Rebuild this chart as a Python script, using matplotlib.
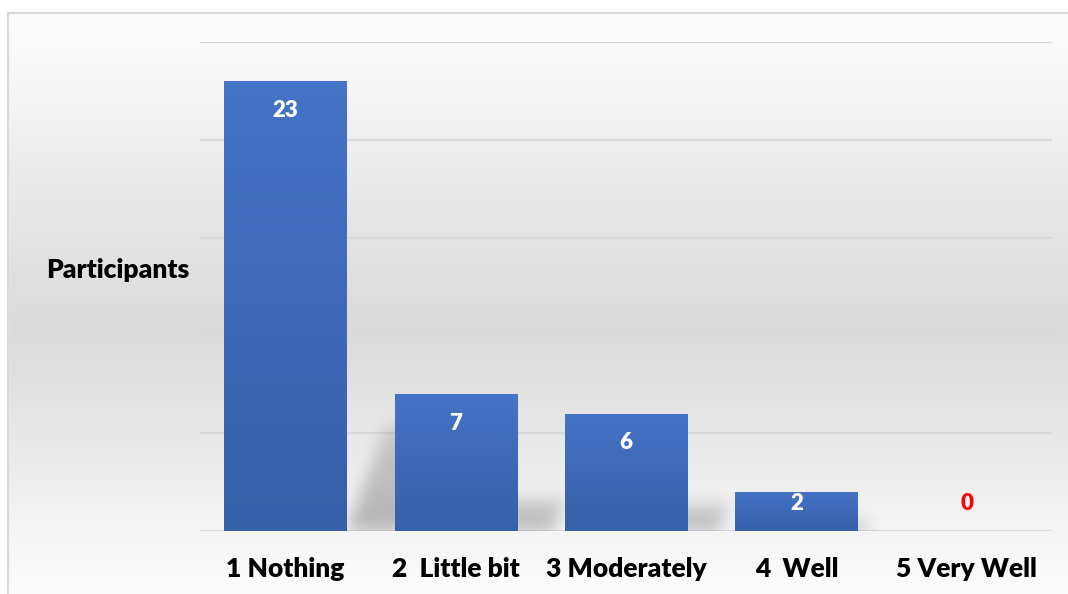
import numpy as np
import matplotlib
matplotlib.use("Agg")
import matplotlib.pyplot as plt
from matplotlib.colors import LinearSegmentedColormap

# datos del grafico
categorias = ["1 Nothing", "2  Little bit", "3 Moderately", "4  Well", "5 Very Well"]
participantes = [23, 7, 6, 2, 0]
y_max = 25
y_ticks = [0, 5, 10, 15, 20, 25]

plt.rcParams['font.family'] = ['Lato', 'DejaVu Sans']

W, H = 1068, 594
fig = plt.figure(figsize=(W / 100, H / 100), dpi=100)

# fondo con degradado gris (blanco arriba y abajo)
fondo = fig.add_axes([0, 0, 1, 1], zorder=-10)
fondo.set_axis_off()
yy = np.linspace(0, 1, 300)  # 0 = arriba
puntos_y = [0.0, 0.55, 1.0]
puntos_v = [1.0, 0.855, 0.99]
col = np.interp(yy, puntos_y, puntos_v)
grad = np.repeat(col[:, None], 2, axis=1)
fondo.imshow(np.dstack([grad, grad, grad]), aspect='auto', extent=[0, 1, 0, 1],
             interpolation='bilinear')
fondo.set_xlim(0, 1)
fondo.set_ylim(0, 1)
# zona blanca fuera del marco y borde del marco
x_b, y_b = 8 / W, 1 - 13 / H
fondo.fill_between([0, 1], y_b, 1, color='white', zorder=2)
fondo.fill_between([0, x_b], 0, 1, color='white', zorder=2)
fondo.plot([x_b, x_b, 1.01], [-0.01, y_b, y_b], color='#d9d9d9', lw=1.6, zorder=3)

ax = fig.add_axes([200 / W, (H - 531) / H, 852 / W, 489 / H])
ax.patch.set_alpha(0)
x = np.arange(len(categorias))
ancho = 0.716

ax.set_xlim(-0.5, len(categorias) - 0.5)
ax.set_ylim(0, y_max)
ax.set_yticks(y_ticks)
ax.set_yticklabels([])
ax.grid(axis='y', color='#d9d9d9', lw=1.6, zorder=0)
ax.set_axisbelow(True)
for s in ax.spines.values():
    s.set_visible(False)
ax.tick_params(length=0)

# sombras difuminadas detras de las barras
nx, ny = 852, 489
gx = np.linspace(-0.5, len(categorias) - 0.5, nx)
gy = np.linspace(y_max, 0, ny)
XX, YY = np.meshgrid(gx, gy)
mascara = np.zeros((ny, nx))
for xi, v in zip(x, participantes):
    if v <= 0:
        continue
    alto = 0.23 * v
    t = np.clip(YY / alto, 0, 1)
    desp = 0.031 * v + (0.0414 * v - 0.031 * v) * t
    dentro = (YY <= alto) & (XX >= xi - ancho / 2 + desp) & (XX <= xi + ancho / 2 + desp)
    mascara = np.maximum(mascara, dentro * (1 - 0.45 * t))


def difuminar(a, sigma):
    k = np.arange(-3 * sigma, 3 * sigma + 1)
    g = np.exp(-k ** 2 / (2 * sigma ** 2))
    g /= g.sum()
    a = np.apply_along_axis(lambda r: np.convolve(r, g, mode='same'), 1, a)
    a = np.apply_along_axis(lambda c: np.convolve(c, g, mode='same'), 0, a)
    return a


mascara = difuminar(mascara, 8)
sombra = np.zeros((ny, nx, 4))
sombra[..., 3] = mascara * 0.26
ax.imshow(sombra, extent=[-0.5, len(categorias) - 0.5, 0, y_max], aspect='auto', zorder=1,
          interpolation='bilinear')

# barras con degradado azul
barras = ax.bar(x, participantes, width=ancho, color='#4472c4', zorder=2)
cmap_barra = LinearSegmentedColormap.from_list('azul', ['#3560aa', '#4573c5'])
for b in barras:
    if b.get_height() <= 0:
        continue
    x0, y0 = b.get_x(), b.get_y()
    im = ax.imshow(np.linspace(0, 1, 100)[:, None], cmap=cmap_barra, origin='lower',
                   extent=[x0, x0 + b.get_width(), y0, y0 + b.get_height()],
                   aspect='auto', zorder=3)
    im.set_clip_path(b)
ax.set_xlim(-0.5, len(categorias) - 0.5)
ax.set_ylim(0, y_max)

# etiquetas de valores (dentro del extremo, pero nunca pegadas a la base)
px_y = 489 / y_max
for xi, v in zip(x, participantes):
    pos = max(v - 29 / px_y, 28 / px_y)
    color = 'white' if v > 0 else '#ff0000'
    ax.text(xi, pos, str(v), ha='center', va='center', color=color, fontsize=16,
            fontweight='heavy', zorder=5)

ax.set_xticks(x)
ax.set_xticklabels(categorias, fontsize=19, fontweight='heavy', va='baseline')
ax.tick_params(axis='x', pad=33)

fig.text(118 / W, 1 - 270 / H, "Participants", ha='center', va='center',
         fontsize=19, fontweight='heavy')

fig.savefig("out.png", dpi=100)
